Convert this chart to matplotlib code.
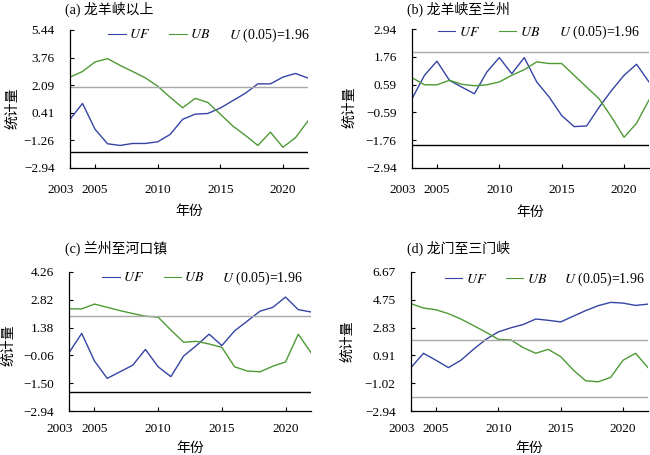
import numpy as np
import matplotlib
matplotlib.use("Agg")
import matplotlib.pyplot as plt
import matplotlib.transforms as mtransforms
from matplotlib.lines import Line2D

plt.rcParams['font.family'] = ['Liberation Serif', 'Noto Sans CJK SC']
plt.rcParams['mathtext.fontset'] = 'stix'
plt.rcParams['axes.unicode_minus'] = True

years = np.arange(2003, 2023)

# (a) 龙羊峡以上
uf_a = [0.02, 0.98, -0.59, -1.47, -1.57, -1.45, -1.45, -1.35, -0.90, 0.02,
        0.33, 0.37, 0.70, 1.15, 1.60, 2.17, 2.17, 2.58, 2.80, 2.52]
ub_a = [2.58, 2.92, 3.50, 3.70, 3.29, 2.92, 2.54, 2.03, 1.35, 0.72,
        1.29, 1.04, 0.33, -0.39, -0.96, -1.57, -0.76, -1.68, -1.10, -0.08]
# (b) 龙羊峡至兰州
uf_b = [-0.01, 0.98, 1.58, 0.77, 0.48, 0.20, 1.12, 1.73, 1.05, 1.73,
        0.70, 0.06, -0.72, -1.19, -1.16, -0.37, 0.34, 0.98, 1.45, 0.70]
ub_b = [0.88, 0.58, 0.58, 0.77, 0.60, 0.54, 0.58, 0.70, 0.98, 1.22,
        1.55, 1.48, 1.48, 0.98, 0.48, -0.01, -0.79, -1.64, -1.05, -0.06]
# (c) 兰州至河口镇
uf_c = [0.08, 1.08, -0.35, -1.25, -0.91, -0.57, 0.25, -0.65, -1.16, -0.09,
        0.45, 1.04, 0.45, 1.21, 1.72, 2.23, 2.43, 2.96, 2.31, 2.19]
ub_c = [2.35, 2.35, 2.60, 2.43, 2.26, 2.11, 1.97, 1.92, 1.25, 0.62,
        0.67, 0.53, 0.36, -0.65, -0.87, -0.91, -0.62, -0.40, 1.04, 0.08]
# (d) 龙门至三门峡
uf_d = [0.06, 1.05, 0.57, 0.06, 0.57, 1.32, 2.01, 2.53, 2.81, 3.04,
        3.42, 3.33, 3.22, 3.61, 4.00, 4.34, 4.57, 4.52, 4.36, 4.45]
ub_d = [4.48, 4.18, 4.06, 3.79, 3.42, 2.97, 2.51, 2.01, 1.98, 1.44,
        1.05, 1.32, 0.82, -0.10, -0.85, -0.92, -0.62, 0.57, 1.05, 0.06]

titles = ['(a) 龙羊峡以上', '(b) 龙羊峡至兰州', '(c) 兰州至河口镇', '(d) 龙门至三门峡']
yticks_list = [
    [-2.94, -1.26, 0.41, 2.09, 3.76, 5.44],
    [-2.94, -1.76, -0.59, 0.59, 1.76, 2.94],
    [-2.94, -1.50, -0.06, 1.38, 2.82, 4.26],
    [-2.94, -1.02, 0.91, 2.83, 4.75, 6.67],
]
xticks = [2003, 2005, 2010, 2015, 2020]
u_crit = 1.96
lower_color = ['black', 'black', 'black', '#a8a8a8']

uf_all = [uf_a, uf_b, uf_c, uf_d]
ub_all = [ub_a, ub_b, ub_c, ub_d]

blue = '#3544a3'
green = '#4d9a35'

fig = plt.figure(figsize=(6.5, 4.55), dpi=100)
W, H = 650, 455
# axes boxes in pixels: left, top, right, bottom
boxes = [(70, 30, 308, 168), (412, 29, 649, 168),
         (69, 272, 311, 411), (411, 272, 648, 411)]
title_pos = [(65, 9), (407, 9), (65, 248), (407, 248)]
ylab_x = [-0.214, -0.236, -0.22, -0.24]
ylab_y = [0.43, 0.44, 0.47, 0.50]
xlab_y = [-0.27, -0.27, -0.225, -0.225]
xpad = [11.5, 11.5, 8.5, 8.5]
# legend row: vertical centre, right end of "UB" entry, right end of U text
leg_y = [0.964, 0.975, 0.957, 0.945]
leg_ub_end = [0.59, 0.54, 0.56, 0.574]
leg_u_end = [1.008, 0.962, 0.967, 0.987]

for i in range(4):
    l, t, r, b = boxes[i]
    ax = fig.add_axes([l / W, 1 - b / H, (r - l) / W, (b - t) / H])
    yt = yticks_list[i]
    ax.plot(years, uf_all[i], color=blue, lw=1.0)
    ax.plot(years, ub_all[i], color=green, lw=1.0)
    ax.axhline(u_crit, color='#a8a8a8', lw=1.0)
    ax.axhline(-u_crit, color=lower_color[i], lw=1.0)
    ax.set_xlim(2003, 2022)
    ax.set_ylim(yt[0], yt[-1])
    ax.set_yticks(yt)
    ax.set_yticklabels([f'{v:.2f}'.replace('-', '\u2212') for v in yt])
    ax.set_xticks(xticks)
    ax.set_xticklabels([str(x) for x in xticks])
    for s in ['top', 'right']:
        ax.spines[s].set_visible(False)
    for s in ['left', 'bottom']:
        ax.spines[s].set_linewidth(0.9)
    ax.tick_params(axis='y', direction='in', length=3, width=0.8, pad=11, labelsize=9.5)
    ax.tick_params(axis='x', direction='in', length=3, width=0.8, pad=xpad[i], labelsize=9.5)
    # shift first year label left so it does not run into 2005
    lab0 = ax.get_xticklabels()[0]
    lab0.set_transform(lab0.get_transform() +
                       mtransforms.ScaledTranslation(-9 / 100, 0, fig.dpi_scale_trans))
    ax.set_ylabel('统计量', fontsize=10)
    ax.yaxis.set_label_coords(ylab_x[i], ylab_y[i])
    ax.set_xlabel('年份', fontsize=10)
    ax.xaxis.set_label_coords(0.5, xlab_y[i])
    handles = [Line2D([], [], color=blue, lw=0.8),
               Line2D([], [], color=green, lw=0.8)]
    ax.legend(handles, ['$UF$', '$UB$'], ncol=2, loc='center right',
              bbox_to_anchor=(leg_ub_end[i], leg_y[i]), frameon=False, fontsize=10,
              borderpad=0, borderaxespad=0,
              handlelength=1.25, handletextpad=0.25, columnspacing=1.4)
    ax.text(leg_u_end[i], leg_y[i], '$U$ (0.05)=1.96', transform=ax.transAxes,
            ha='right', va='center', fontsize=10)
    fig.text(title_pos[i][0] / W, 1 - title_pos[i][1] / H, titles[i],
             ha='left', va='center', fontsize=10)

fig.savefig('out.png', dpi=100)
